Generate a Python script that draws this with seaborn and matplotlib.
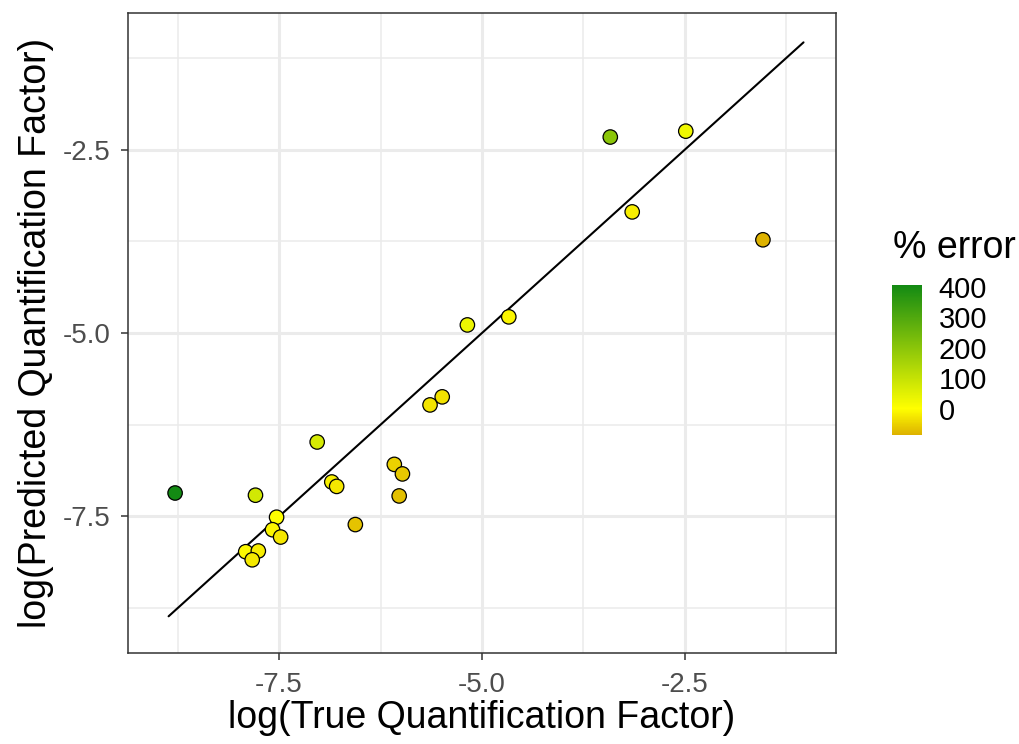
import numpy as np
import pandas as pd
import matplotlib
matplotlib.use("Agg")
import matplotlib.pyplot as plt
import seaborn as sns
from matplotlib.colors import LinearSegmentedColormap, Normalize
from matplotlib.cm import ScalarMappable
from matplotlib.ticker import FixedLocator

# ---- data ----
true_log = [-8.78, -7.79, -7.03, -7.53, -7.58, -7.48, -7.91, -7.755, -7.83,
            -6.85, -6.79, -6.56, -6.08, -5.98, -6.02, -5.64, -5.49, -5.18,
            -4.67, -3.42, -2.49, -3.15, -1.54]
pred_log = [-7.18, -7.21, -6.485, -7.51, -7.68, -7.78, -7.98, -7.97, -8.09,
            -7.03, -7.09, -7.61, -6.79, -6.92, -7.22, -5.98, -5.87, -4.89,
            -4.78, -2.33, -2.25, -3.35, -3.73]
pct_error = [405, 79, 72, 2, -10, -26, -7, -19, -23,
             -16, -26, -65, -51, -61, -70, -29, -32, 34,
             -11, 199, 27, -18, -86]
identity_range = [-8.86, -1.04]
tick_values = [-7.5, -5.0, -2.5]
cbar_ticks = [0, 100, 200, 300, 400]

df = pd.DataFrame({"true": true_log, "pred": pred_log, "err": pct_error})
line_df = pd.DataFrame({"x": identity_range, "y": identity_range})

sns.set_theme(style="white")
plt.rcParams["font.family"] = ["Liberation Sans", "DejaVu Sans"]

vmin, vmax = min(pct_error), max(pct_error)
norm = Normalize(vmin=vmin, vmax=vmax)
p0 = (0 - vmin) / (vmax - vmin)
cmap = LinearSegmentedColormap.from_list(
    "err", [(0.0, "#DDB200"), (p0, "#FFFF00"), (1.0, "#138A13")])

W, H = 1019, 744
fig = plt.figure(figsize=(W / 100, H / 100), dpi=100)
ax = fig.add_axes([128 / W, 1 - 653 / H, 708 / W, 640 / H])

lo, hi = -9.36, -0.64
ax.set_xlim(lo, hi)
ax.set_ylim(lo, hi)

minor = [-8.75, -6.25, -3.75, -1.25]
ax.xaxis.set_major_locator(FixedLocator(tick_values))
ax.yaxis.set_major_locator(FixedLocator(tick_values))
ax.xaxis.set_minor_locator(FixedLocator(minor))
ax.yaxis.set_minor_locator(FixedLocator(minor))
ax.grid(True, which="major", color="#EBEBEB", linewidth=2.2, zorder=0)
ax.grid(True, which="minor", color="#EBEBEB", linewidth=1.1, zorder=0)
ax.set_axisbelow(True)

sns.lineplot(data=line_df, x="x", y="y", color="black", linewidth=1.5,
             ax=ax, zorder=2)
sns.scatterplot(data=df, x="true", y="pred", hue="err", palette=cmap,
                hue_norm=norm, s=108, edgecolor="black", linewidth=0.9,
                legend=False, ax=ax, zorder=3)

ax.set_xticklabels([f"{v:.1f}" for v in tick_values])
ax.set_yticklabels([f"{v:.1f}" for v in tick_values])
ax.tick_params(axis="both", which="major", direction="out", length=5,
               width=1.1, color="#333333", labelsize=20, labelcolor="#4D4D4D",
               bottom=True, left=True)
ax.tick_params(axis="x", which="major", pad=9)
ax.tick_params(axis="y", which="major", pad=7.5)
ax.tick_params(axis="both", which="minor", length=0)
for sp in ax.spines.values():
    sp.set_color("#333333")
    sp.set_linewidth(1.1)

ax.set_xlabel("log(True Quantification Factor)", fontsize=27, color="black",
              labelpad=1)
ax.set_ylabel("log(Predicted Quantification Factor)", fontsize=27,
              color="black", labelpad=6)

# colorbar
cax = fig.add_axes([892 / W, 1 - 435 / H, 30 / W, 150 / H])
sm = ScalarMappable(norm=norm, cmap=cmap)
cb = fig.colorbar(sm, cax=cax, ticks=cbar_ticks)
cb.outline.set_visible(False)
cax.tick_params(axis="y", direction="in", length=6, width=1, color="white",
                left=True, right=True, labelsize=21, labelcolor="black", pad=12)
fig.text(893 / W, 1 - 248 / H, "% error", fontsize=27, ha="left",
         va="center", color="black")

fig.savefig("out.png", dpi=100)
